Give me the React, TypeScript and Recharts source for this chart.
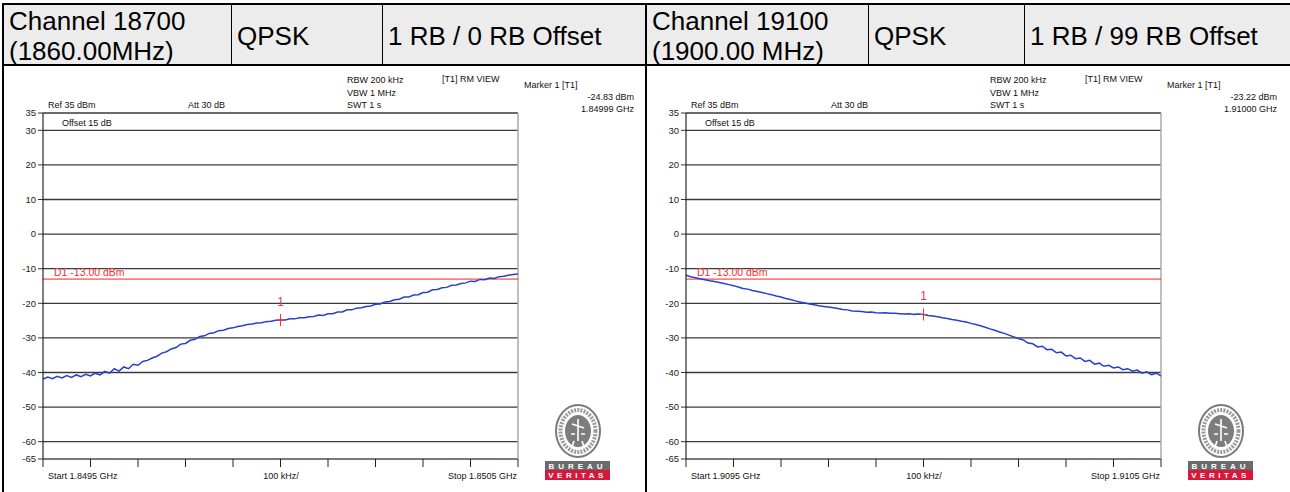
import React from "react"
import { LineChart, Line, XAxis, YAxis, CartesianGrid, ReferenceLine, ReferenceDot } from "recharts"

const FONT = "'Liberation Sans', Arial, sans-serif"

// header cells
const HEADER_LEFT = [["Channel 18700", "(1860.00MHz)"], ["QPSK"], ["1 RB / 0 RB Offset"]]
const HEADER_RIGHT = [["Channel 19100", "(1900.00 MHz)"], ["QPSK"], ["1 RB / 99 RB Offset"]]
const CELLS_LEFT = [4, 232, 383, 645]
const CELLS_RIGHT = [647, 869, 1025, 1290]

// sweep settings (MHz)
const SWEEP_LEFT = { start: 1849.5, stop: 1850.5, step: 0.01 }
const SWEEP_RIGHT = { start: 1909.5, stop: 1910.5, step: 0.01 }
const X_TICKS_LEFT = [1849.5, 1849.6, 1849.7, 1849.8, 1849.9, 1850.0, 1850.1, 1850.2, 1850.3, 1850.4, 1850.5]
const X_TICKS_RIGHT = [1909.5, 1909.6, 1909.7, 1909.8, 1909.9, 1910.0, 1910.1, 1910.2, 1910.3, 1910.4, 1910.5]
const Y_TICKS = [35, 30, 20, 10, 0, -10, -20, -30, -40, -50, -60, -65]
const LIMIT = -13

// trace levels (dBm), one per 10 kHz
const LEVELS_LEFT = [
  -41.9, -41.3, -41.8, -41.1, -41.6, -40.9, -41.4, -40.7, -41.2, -40.5,
  -41.0, -40.2, -40.7, -39.7, -40.2, -38.9, -39.6, -38.4, -38.9, -37.6,
  -37.9, -36.8, -36.5, -35.8, -35.3, -34.4, -34.0, -33.2, -32.8, -31.8,
  -31.6, -30.7, -30.4, -29.6, -29.4, -28.7, -28.5, -27.9, -27.8, -27.3,
  -27.1, -26.7, -26.5, -26.1, -26.0, -25.7, -25.6, -25.3, -25.2, -24.9,
  -24.83, -24.8, -24.5, -24.5, -24.2, -24.2, -23.9, -23.8, -23.4, -23.5,
  -23.0, -23.0, -22.5, -22.5, -21.9, -21.9, -21.4, -21.3, -20.9, -20.8,
  -20.3, -20.2, -19.6, -19.5, -19.0, -18.8, -18.2, -18.2, -17.6, -17.5,
  -16.9, -16.8, -16.1, -16.0, -15.5, -15.4, -14.8, -14.7, -14.3, -14.1,
  -13.6, -13.7, -13.1, -13.2, -12.7, -12.8, -12.3, -12.2, -11.9, -11.7,
  -11.5,
]
const LEVELS_RIGHT = [
  -11.9, -12.3, -12.6, -12.9, -13.2, -13.5, -13.7, -14.0, -14.3, -14.6,
  -14.9, -15.3, -15.7, -15.9, -16.3, -16.6, -16.9, -17.2, -17.5, -17.9,
  -18.2, -18.6, -18.9, -19.3, -19.6, -19.9, -20.2, -20.4, -20.7, -20.9,
  -21.1, -21.3, -21.5, -21.8, -21.9, -22.2, -22.3, -22.4, -22.6, -22.5,
  -22.7, -22.8, -22.7, -22.9, -22.9, -23.0, -23.1, -23.0, -23.2, -23.1,
  -23.22, -23.5, -23.7, -23.9, -24.2, -24.4, -24.7, -24.9, -25.2, -25.4,
  -25.8, -26.1, -26.5, -26.9, -27.4, -27.8, -28.3, -28.7, -29.2, -29.7,
  -30.2, -30.6, -31.5, -31.7, -32.6, -32.4, -33.4, -33.3, -34.3, -34.1,
  -35.2, -35.0, -36.0, -35.8, -36.8, -36.5, -37.6, -37.3, -38.2, -37.9,
  -38.7, -38.4, -39.2, -38.9, -39.6, -39.3, -40.2, -39.8, -40.6, -40.2,
  -41.0,
]

const MARKER_LEFT = { freq: 1850.0, level: -24.83 }
const MARKER_RIGHT = { freq: 1910.0, level: -23.22 }

const INFO_LEFT = {
  level: "-24.83 dBm",
  freq: "1.84999 GHz",
  start: "Start 1.8495 GHz",
  stop: "Stop 1.8505 GHz",
}
const INFO_RIGHT = {
  level: "-23.22 dBm",
  freq: "1.91000 GHz",
  start: "Start 1.9095 GHz",
  stop: "Stop 1.9105 GHz",
}

function Header({ cells, texts }) {
  return (
    <>
      {texts.map((lines, i) => (
        <div
          key={i}
          style={{
            position: "absolute",
            left: cells[i],
            top: 5,
            width: cells[i + 1] - cells[i],
            height: 61,
            borderRight: i < 2 ? "1px solid #000" : "none",
            boxSizing: "border-box",
            paddingLeft: 5,
            display: "flex",
            flexDirection: "column",
            justifyContent: "center",
            fontFamily: FONT,
            fontSize: 26,
            lineHeight: "30px",
            color: "#000",
            whiteSpace: "nowrap",
          }}
        >
          {lines.map(l => (
            <div key={l}>{l}</div>
          ))}
        </div>
      ))}
    </>
  )
}

function Logo() {
  return (
    <svg width={80} height={80} style={{ position: "absolute", left: 534, top: 334 }}>
      <ellipse cx={40} cy={29} rx={22} ry={26} fill="#fff" stroke="#7a7a7a" strokeWidth={2} />
      <ellipse cx={40} cy={29} rx={17.5} ry={21} fill="none" stroke="#9a9a9a" strokeWidth={4} strokeDasharray="2 1.2" />
      <ellipse cx={40} cy={29} rx={13} ry={16} fill="#7d7d7d" />
      <path d="M40 17 L40 39 M34 22 L46 26 M36 39 L34 45 M44 39 L46 45 M33 32 L37 32 M43 32 L47 32" stroke="#fff" strokeWidth={1.6} />
      <rect x={7} y={59} width={65} height={9} fill="#6b6b6b" />
      <rect x={7} y={68} width={65} height={10} fill="#d6183d" />
      <text x={39.5} y={66.5} textAnchor="middle" fontFamily={FONT} fontSize={8} fontWeight="bold" fill="#fff" letterSpacing={4}>BUREAU</text>
      <text x={39.5} y={76} textAnchor="middle" fontFamily={FONT} fontSize={8} fontWeight="bold" fill="#fff" letterSpacing={3.5}>VERITAS</text>
    </svg>
  )
}

function MarkerShape(props) {
  const { cx, cy } = props
  return (
    <g>
      <line x1={cx} y1={cy - 6} x2={cx} y2={cy + 6} stroke="#ff3030" strokeWidth={1} />
      <line x1={cx - 4} y1={cy} x2={cx + 4} y2={cy} stroke="#ff3030" strokeWidth={1} />
      <text x={cx} y={cy - 14} textAnchor="middle" fontFamily={FONT} fontSize={12} fill="#f04040">1</text>
    </g>
  )
}

function Panel({ x0, sweep, levels, ticks, marker, info }) {
  const data = levels.map((level, i) => ({
    freq: Math.round((sweep.start + i * sweep.step) * 1000) / 1000,
    level,
  }))
  const small = { fontFamily: FONT, fontSize: 9, fill: "#111" }
  return (
    <div style={{ position: "absolute", left: x0, top: 68, width: 641, height: 424 }}>
      <svg width={641} height={424} style={{ position: "absolute", left: 0, top: 0 }}>
        <text x={44} y={40} {...small}>Ref 35 dBm</text>
        <text x={184} y={40} {...small}>Att  30 dB</text>
        <text x={343} y={15} {...small}>RBW 200 kHz</text>
        <text x={343} y={28} {...small}>VBW 1 MHz</text>
        <text x={343} y={40} {...small}>SWT 1 s</text>
        <text x={438} y={14} {...small}>[T1] RM VIEW</text>
        <text x={520} y={20} {...small}>Marker 1 [T1]</text>
        <text x={630} y={32} textAnchor="end" {...small}>{info.level}</text>
        <text x={630} y={44} textAnchor="end" {...small}>{info.freq}</text>
        <text x={58} y={58} {...small}>Offset 15 dB</text>
        <text x={44} y={411} {...small}>{info.start}</text>
        <text x={277} y={411} textAnchor="middle" {...small}>100 kHz/</text>
        <text x={513} y={411} textAnchor="end" {...small}>{info.stop}</text>
      </svg>
      <LineChart
        width={560}
        height={380}
        data={data}
        margin={{ top: 13, right: 46, bottom: 9, left: 5 }}
        style={{ position: "absolute", left: 0, top: 32 }}
      >
        <CartesianGrid vertical={false} stroke="#3a3a3a" strokeWidth={1.3} />
        <XAxis
          dataKey="freq"
          type="number"
          domain={[sweep.start, sweep.stop]}
          ticks={ticks}
          interval={0}
          allowDataOverflow
          height={12}
          tickSize={8}
          tickLine={{ stroke: "#222" }}
          axisLine={{ stroke: "#888" }}
          tick={() => <g />}
        />
        <YAxis
          type="number"
          domain={[-65, 35]}
          ticks={Y_TICKS}
          interval={0}
          allowDataOverflow
          width={34}
          tickSize={5}
          tickMargin={2}
          tick={{ fontSize: 9.5, fill: "#222", fontFamily: FONT }}
          axisLine={{ stroke: "#000" }}
          tickLine={{ stroke: "#333" }}
        />
        <ReferenceLine x={sweep.stop} stroke="#aaa" strokeWidth={1.5} />
        <ReferenceLine
          y={LIMIT}
          stroke="#ff2020"
          strokeWidth={1}
          label={p => (
            <text x={p.viewBox.x + 11} y={p.viewBox.y - 3} fill="#f03030" fontSize={10.5} fontFamily={FONT}>
              D1 -13.00 dBm
            </text>
          )}
        />
        <Line
          dataKey="level"
          stroke="#2142d0"
          strokeWidth={1.5}
          dot={false}
          isAnimationActive={false}
        />
        <ReferenceDot x={marker.freq} y={marker.level} r={3} shape={MarkerShape} />
      </LineChart>
      <Logo />
    </div>
  )
}

export default function App() {
  return (
    <div style={{ position: "absolute", left: 0, top: 0, width: 1290, height: 492, background: "#fff", overflow: "hidden" }}>
      <div style={{ position: "absolute", left: 2, top: 3, width: 1288, height: 63, background: "#ececec", borderTop: "2px solid #000", borderBottom: "2px solid #000", boxSizing: "border-box" }} />
      <div style={{ position: "absolute", left: 2, top: 3, width: 2, height: 489, background: "#000" }} />
      <div style={{ position: "absolute", left: 645, top: 3, width: 2, height: 489, background: "#000" }} />
      <Header cells={CELLS_LEFT} texts={HEADER_LEFT} />
      <Header cells={CELLS_RIGHT} texts={HEADER_RIGHT} />
      <Panel x0={4} sweep={SWEEP_LEFT} levels={LEVELS_LEFT} ticks={X_TICKS_LEFT} marker={MARKER_LEFT} info={INFO_LEFT} />
      <Panel x0={647} sweep={SWEEP_RIGHT} levels={LEVELS_RIGHT} ticks={X_TICKS_RIGHT} marker={MARKER_RIGHT} info={INFO_RIGHT} />
    </div>
  )
}
